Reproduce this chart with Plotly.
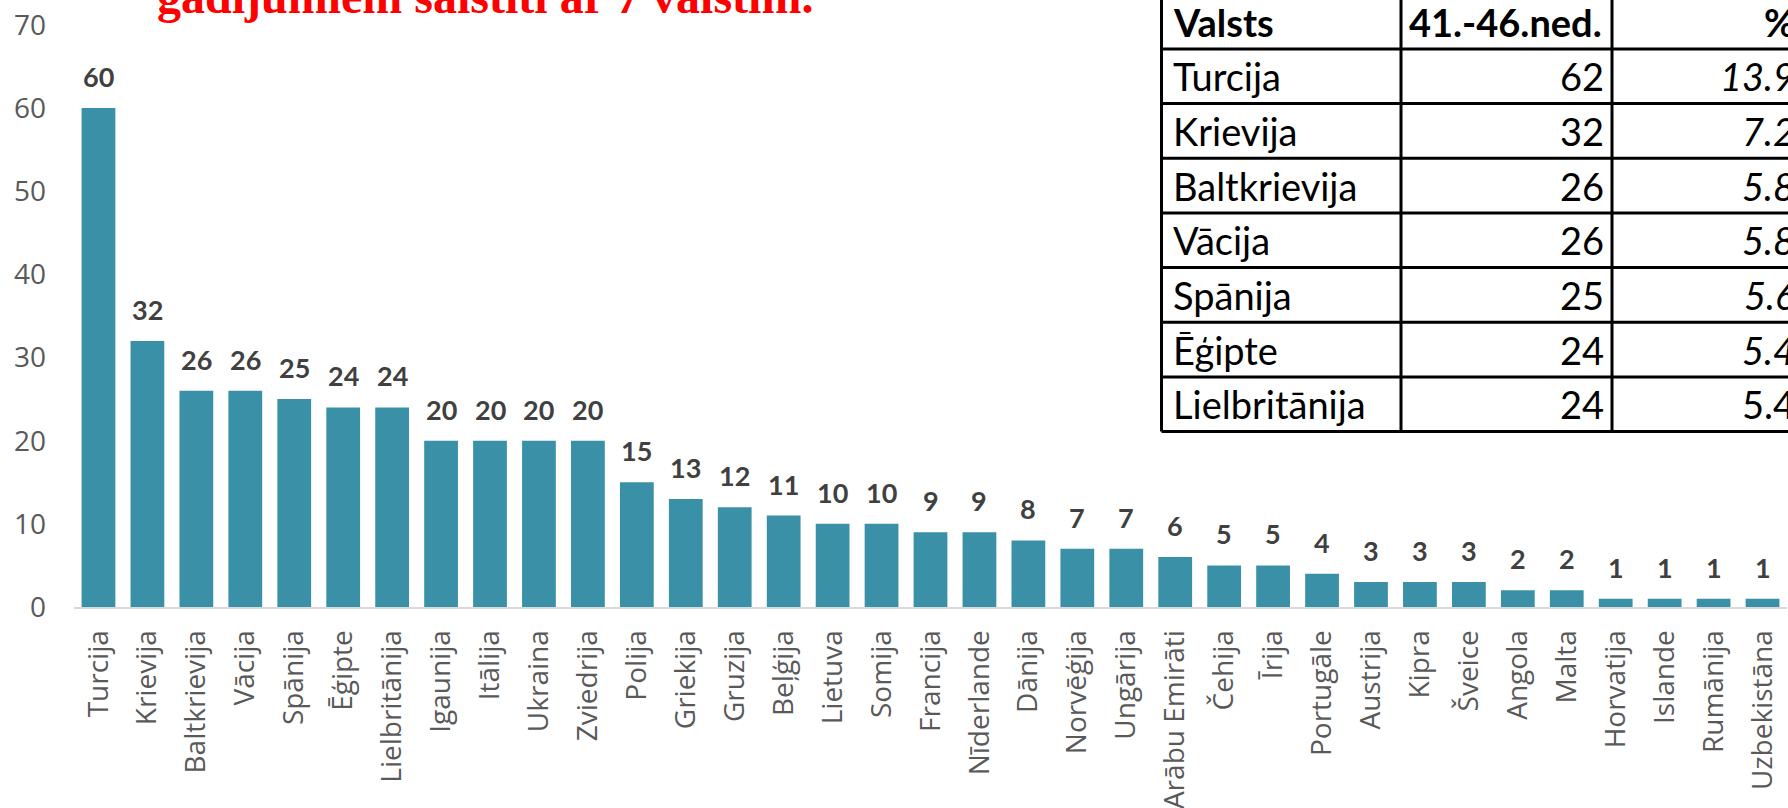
import plotly.graph_objects as go

# ---- data ----
countries = ["Turcija", "Krievija", "Baltkrievija", "Vācija", "Spānija", "Ēģipte",
             "Lielbritānija", "Igaunija", "Itālija", "Ukraina", "Zviedrija", "Polija",
             "Griekija", "Gruzija", "Beļģija", "Lietuva", "Somija", "Francija",
             "Nīderlande", "Dānija", "Norvēģija", "Ungārija", "Arābu Emirāti", "Čehija",
             "Īrija", "Portugāle", "Austrija", "Kipra", "Šveice", "Angola", "Malta",
             "Horvatija", "Islande", "Rumānija", "Uzbekistāna"]
cases = [60, 32, 26, 26, 25, 24, 24, 20, 20, 20, 20, 15, 13, 12, 11, 10, 10, 9, 9, 8,
         7, 7, 6, 5, 5, 4, 3, 3, 3, 2, 2, 1, 1, 1, 1]
y_ticks = [0, 10, 20, 30, 40, 50, 60, 70]

table_header = ["Valsts", "41.-46.ned.", "%"]
table_countries = ["Turcija", "Krievija", "Baltkrievija", "Vācija", "Spānija", "Ēģipte",
                   "Lielbritānija"]
table_weeks = [62, 32, 26, 26, 25, 24, 24]
table_pct = [13.9, 7.2, 5.8, 5.8, 5.6, 5.4, 5.4]
pct_italic = [True, True, True, True, True, True, False]

title_text = "gadījumiem saistīti ar 7 valstīm."

# ---- layout geometry (pixels) ----
W, H = 1788, 808
ML, MR, MT, MB = 74, 1, 0, 200.5
PW = W - ML - MR
PH = H - MT - MB


def px(xp):
    return (xp - ML) / PW


def py(yp):
    return (PH - yp) / PH


BAR_COLOR = "#3A91A7"
FONT = "Lato, 'Open Sans', sans-serif"
AXIS_FONT = "'Open Sans', sans-serif"

fig = go.Figure()
fig.add_trace(go.Bar(
    x=countries, y=cases, marker=dict(color=BAR_COLOR, line=dict(width=0)),
    hoverinfo="x+y", showlegend=False,
))

# value labels above the bars
for c, v in zip(countries, cases):
    fig.add_annotation(
        x=c, y=v, xref="x", yref="y", text=f"<b>{v}</b>", showarrow=False,
        yanchor="bottom", yshift=13,
        font=dict(family=FONT, size=27, color="#404040"),
    )

# ---- inset table (top right, cropped by the picture edge) ----
col_edges = [1161.5, 1401, 1612, 1805]
row_h = 54.7
header_bottom = 49
row_edges = [header_bottom - row_h] + [header_bottom + i * row_h for i in range(len(table_countries) + 1)]
line_style = dict(color="black", width=3)

fig.add_shape(type="rect", xref="paper", yref="paper",
              x0=px(col_edges[0]), x1=px(col_edges[-1]),
              y0=py(row_edges[0]), y1=py(row_edges[-1]),
              fillcolor="white", line=dict(width=0), layer="above")
for xe in col_edges:
    fig.add_shape(type="line", xref="paper", yref="paper",
                  x0=px(xe), x1=px(xe), y0=py(row_edges[0]), y1=py(row_edges[-1]),
                  line=line_style, layer="above")
for ye in row_edges:
    fig.add_shape(type="line", xref="paper", yref="paper",
                  x0=px(col_edges[0]), x1=px(col_edges[-1]), y0=py(ye), y1=py(ye),
                  line=line_style, layer="above")

text_x = [(col_edges[0] + 9, "left"), (col_edges[1] + 6, "left"), (1797, "right")]
header_font = dict(family=FONT, size=38, color="black")
for (tx, anchor), h in zip(text_x, table_header):
    fig.add_annotation(xref="paper", yref="paper", x=px(tx),
                       y=py((row_edges[0] + row_edges[1]) / 2),
                       xanchor=anchor, yanchor="middle", showarrow=False,
                       text=f"<b>{h}</b>", font=header_font)

cell_font = dict(family=FONT, size=38, color="black")
for i, (name, wk, pct, it) in enumerate(zip(table_countries, table_weeks, table_pct, pct_italic)):
    yc = py((row_edges[i + 1] + row_edges[i + 2]) / 2)
    fig.add_annotation(xref="paper", yref="paper", x=px(col_edges[0] + 9), y=yc,
                       xanchor="left", yanchor="middle", showarrow=False,
                       text=name, font=cell_font)
    fig.add_annotation(xref="paper", yref="paper", x=px(col_edges[2] - 6), y=yc,
                       xanchor="right", yanchor="middle", showarrow=False,
                       text=str(wk), font=cell_font)
    pct_txt = f"{pct:.1f}"
    fig.add_annotation(xref="paper", yref="paper", x=px(1797), y=yc,
                       xanchor="right", yanchor="middle", showarrow=False,
                       text=f"<i>{pct_txt}</i>" if it else pct_txt, font=cell_font)

# ---- red title (only its lower part is in view) ----
fig.add_annotation(
    xref="paper", yref="paper", x=px(155), y=py(25),
    xanchor="left", yanchor="bottom", showarrow=False,
    text=f"<b>{title_text}</b>",
    font=dict(family="'Liberation Serif', 'Times New Roman', serif", size=48, color="#FF0000"),
)

fig.update_layout(
    width=W, height=H,
    margin=dict(l=ML, r=MR, t=MT, b=MB, pad=0),
    paper_bgcolor="white", plot_bgcolor="white",
    bargap=0.31,
    xaxis=dict(
        type="category", tickangle=-90, showgrid=False, zeroline=False,
        showline=True, linecolor="#D9D9D9", linewidth=2,
        ticks="", ticklabelstandoff=10,
        tickfont=dict(family=AXIS_FONT, size=28, color="#595959"),
    ),
    yaxis=dict(
        range=[0, 73.0], tickvals=y_ticks, showgrid=False, zeroline=False,
        showline=False, ticks="", ticklabelstandoff=27,
        tickfont=dict(family=AXIS_FONT, size=28, color="#595959"),
    ),
)

fig.write_html("out.html",
               config={"displayModeBar": False},
               post_script="document.body.style.margin='0';document.body.style.overflow='hidden';")
